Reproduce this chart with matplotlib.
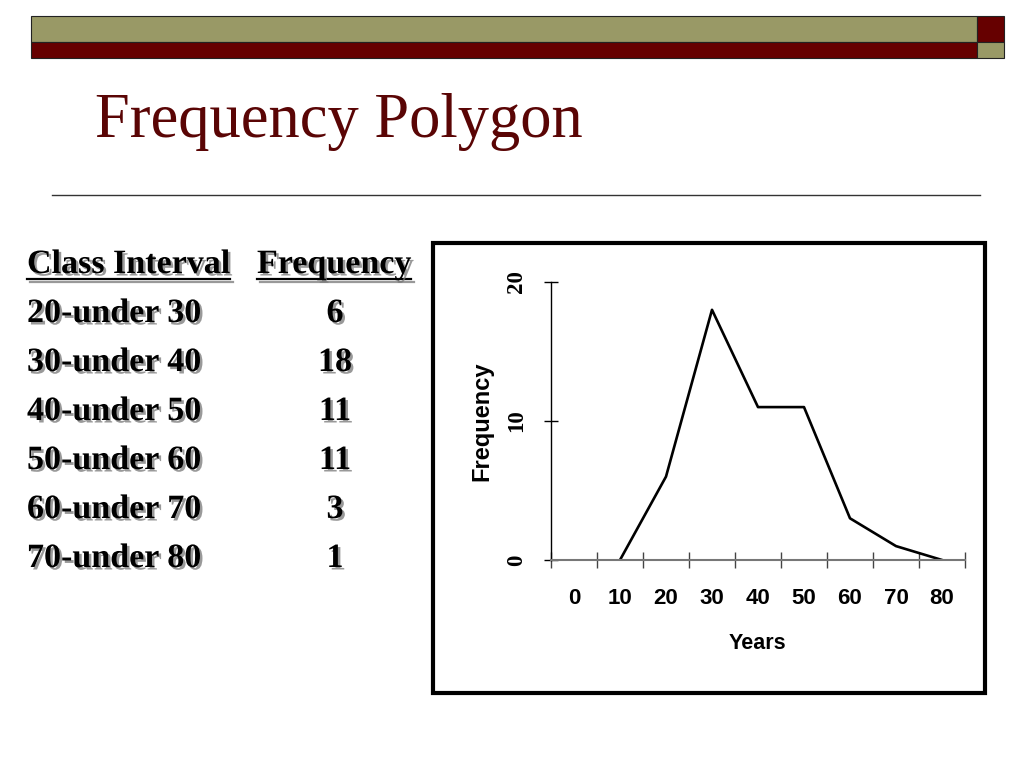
import numpy as np
import matplotlib
matplotlib.use("Agg")
import matplotlib.pyplot as plt
import matplotlib.patheffects as pe
from matplotlib.patches import Rectangle
from matplotlib.lines import Line2D

# table on the left of the slide
class_intervals = ["20-under 30", "30-under 40", "40-under 50",
                   "50-under 60", "60-under 70", "70-under 80"]
frequencies = [6, 18, 11, 11, 3, 1]

# polygon drawn in the chart
year_labels = [0, 10, 20, 30, 40, 50, 60, 70, 80]
poly_years = [10, 20, 30, 40, 50, 60, 70, 80]
poly_freq = [0, 6, 18, 11, 11, 3, 1, 0]
y_ticks = [0, 10, 20]

OLIVE = "#999966"
MAROON = "#660000"
SERIF = "Liberation Serif"
SANS = "Liberation Sans"

W, H = 1024, 768
fig = plt.figure(figsize=(W / 100, H / 100), dpi=100)


def fx(px):
    return px / W


def fy(py):
    return 1 - py / H


def box(x0, y0, x1, y1, **kw):
    fig.patches.append(Rectangle((fx(x0), fy(y1)), (x1 - x0) / W, (y1 - y0) / H,
                                 transform=fig.transFigure, **kw))


# header bars
box(31, 16, 977, 42, facecolor=OLIVE, edgecolor="#222222", lw=0.8)
box(31, 42, 977, 58, facecolor=MAROON, edgecolor="#222222", lw=0.8)
box(977, 16, 1004, 42, facecolor=MAROON, edgecolor="#222222", lw=0.8)
box(977, 42, 1004, 58, facecolor=OLIVE, edgecolor="#222222", lw=0.8)

# title and rule
fig.text(fx(95), fy(137), "Frequency Polygon", fontsize=45, family=SERIF,
         color="#5a0505", va="baseline")
fig.lines.append(Line2D([fx(52), fx(980)], [fy(195), fy(195)], color="#333333",
                        lw=1, transform=fig.transFigure))

# table with shadowed text
shadow = [pe.withSimplePatchShadow(offset=(1.8, -1.8), shadow_rgbFace="#777777", alpha=0.75)]
tkw = dict(fontsize=24.5, fontweight="bold", family=SERIF, va="baseline", path_effects=shadow)
h1 = fig.text(fx(27), fy(273), "Class Interval", **tkw)
h2 = fig.text(fx(257), fy(273), "Frequency", **tkw)
for i, (ci, f) in enumerate(zip(class_intervals, frequencies)):
    yb = fy(322 + 49 * i)
    fig.text(fx(27), yb, ci, **tkw)
    fig.text(fx(335), yb, str(f), ha="center", **tkw)

# chart frame
box(433, 243, 985, 693, fill=False, edgecolor="black", lw=3)

ax = fig.add_axes([fx(551), fy(560), 414 / W, 278 / H])
ax.patch.set_visible(False)
ax.plot(poly_years, poly_freq, color="black", lw=1.9)
ax.set_xlim(-5, 85)
ax.set_ylim(0, 20)

ax.set_xticks(np.arange(-5, 86, 10))
ax.set_xticklabels([])
ax.set_xticks(year_labels, minor=True)
ax.set_xticklabels([str(v) for v in year_labels], minor=True,
                   fontsize=16, fontweight="bold", family=SANS)
ax.tick_params(axis="x", which="major", direction="inout", length=11, width=1, color="#444444")
ax.tick_params(axis="x", which="minor", length=0, pad=20)

ax.set_yticks(y_ticks)
ax.set_yticklabels([str(v) for v in y_ticks], rotation=90, va="center",
                   fontsize=16.5, fontweight="bold", family=SERIF)
ax.tick_params(axis="y", direction="inout", length=10, width=1, pad=12.5)

for s in ["top", "right"]:
    ax.spines[s].set_visible(False)
ax.spines["left"].set_color("black")
ax.spines["left"].set_linewidth(1)
ax.spines["bottom"].set_color("#777777")
ax.spines["bottom"].set_linewidth(1.5)

ax.set_ylabel("Frequency", fontsize=17, fontweight="bold", family=SANS, va="center")
ax.yaxis.set_label_coords(-0.167, 0.5)
ax.set_xlabel("Years", fontsize=15.5, fontweight="bold", family=SANS, va="center")
ax.xaxis.set_label_coords(0.498, -0.30)

# underline the table header
fig.canvas.draw()
r = fig.canvas.get_renderer()
for t in (h1, h2):
    bb = t.get_window_extent(r)
    fig.lines.append(Line2D([bb.x0 / W, bb.x1 / W], [fy(279), fy(279)], color="black",
                            lw=1.6, transform=fig.transFigure,
                            path_effects=[pe.SimpleLineShadow(offset=(1.8, -1.8), shadow_color="#777777", alpha=0.75),
                                          pe.Normal()]))

fig.savefig("out.png", dpi=100)
